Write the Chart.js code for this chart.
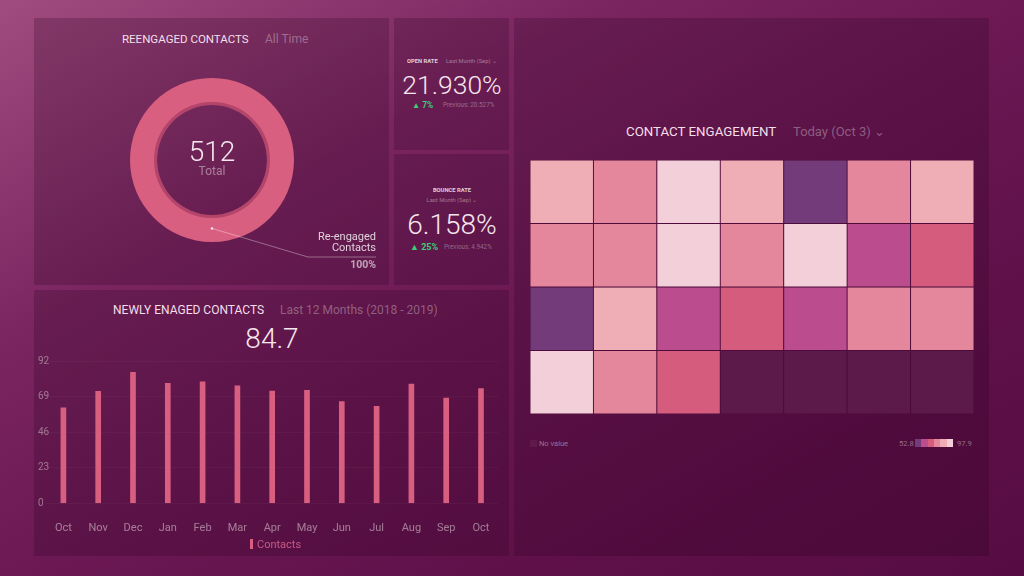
<!DOCTYPE html>
<html>
<head>
<meta charset="utf-8">
<script src="https://cdn.jsdelivr.net/npm/chart.js@4.4.1/dist/chart.umd.min.js"></script>
<style>
  html,body{margin:0;padding:0;}
  body{width:1024px;height:576px;overflow:hidden;position:relative;font-family:Roboto,"Noto Sans",sans-serif;
    background:linear-gradient(to bottom right,#a04c80 0%,#7a2560 30%,#6c1954 50%,#5f1049 75%,#560c42 100%);}
  .panel{position:absolute;background:rgba(35,0,28,0.22);}
  .t{position:absolute;white-space:nowrap;line-height:1;}
  canvas{position:absolute;}
</style>
</head>
<body>
<div class="panel" style="left:34px;top:18px;width:355px;height:267px;"></div>
<div class="panel" style="left:394px;top:18px;width:115px;height:132px;"></div>
<div class="panel" style="left:394px;top:154px;width:115px;height:131px;"></div>
<div class="panel" style="left:34px;top:290px;width:475px;height:266px;"></div>
<div class="panel" style="left:514px;top:18px;width:475px;height:538px;"></div>

<!-- Reengaged contacts -->
<div class="t" style="left:122px;top:33.5px;font-size:11.5px;color:#f4dfea;">REENGAGED CONTACTS</div>
<div class="t" style="left:265px;top:33px;font-size:12px;color:rgba(255,255,255,0.33);">All Time</div>
<canvas id="donut" width="355" height="267" style="left:34px;top:18px;"></canvas>
<div class="t" style="left:162px;width:100px;text-align:center;top:138px;font-size:28px;font-weight:300;color:#f6e6ee;">512</div>
<div class="t" style="left:162px;width:100px;text-align:center;top:165px;font-size:12px;color:rgba(255,255,255,0.42);">Total</div>

<!-- Open rate -->
<div class="t" style="left:407px;top:59px;font-size:5.8px;font-weight:700;color:rgba(255,255,255,0.8);">OPEN RATE</div>
<div class="t" style="left:446px;top:59px;font-size:5.8px;color:rgba(255,255,255,0.4);">Last Month (Sep) ⌄</div>
<div class="t" style="left:394px;width:116px;text-align:center;top:72px;font-size:26.5px;font-weight:300;color:#f6e6ee;">21.930%</div>
<div class="t" style="left:412px;top:101px;font-size:8.3px;font-weight:700;color:#3ccf78;">▲ 7%</div>
<div class="t" style="left:443px;top:102px;font-size:6.3px;color:rgba(255,255,255,0.35);">Previous: 20.527%</div>

<!-- Bounce rate -->
<div class="t" style="left:394px;width:116px;text-align:center;top:188px;font-size:5.8px;font-weight:700;color:rgba(255,255,255,0.8);">BOUNCE RATE</div>
<div class="t" style="left:394px;width:116px;text-align:center;top:198px;font-size:5.8px;color:rgba(255,255,255,0.4);">Last Month (Sep) ⌄</div>
<div class="t" style="left:394px;width:116px;text-align:center;top:211px;font-size:28px;font-weight:300;color:#f6e6ee;">6.158%</div>
<div class="t" style="left:410px;top:243px;font-size:9px;font-weight:700;color:#3ccf78;">▲ 25%</div>
<div class="t" style="left:444px;top:244px;font-size:6.3px;color:rgba(255,255,255,0.35);">Previous: 4.942%</div>

<!-- Newly engaged contacts -->
<div class="t" style="left:113px;top:304px;font-size:12px;color:#f4dfea;">NEWLY ENAGED CONTACTS</div>
<div class="t" style="left:280px;top:304px;font-size:12px;color:rgba(255,255,255,0.33);">Last 12 Months (2018 - 2019)</div>
<div class="t" style="left:222px;width:100px;text-align:center;top:325px;font-size:28px;font-weight:300;color:#f6e6ee;">84.7</div>
<canvas id="bars" width="476" height="190" style="left:34px;top:350px;"></canvas>
<div style="position:absolute;left:250px;top:539px;width:3px;height:10px;background:#d95f80;"></div>
<div class="t" style="left:257px;top:538.5px;font-size:11px;color:#c75a88;">Contacts</div>

<!-- Contact engagement -->
<div class="t" style="left:626px;top:124.5px;font-size:13.3px;color:#f4dfea;">CONTACT ENGAGEMENT</div>
<div class="t" style="left:793px;top:124.5px;font-size:13px;color:rgba(255,255,255,0.33);">Today (Oct 3) ⌄</div>
<canvas id="heat" width="444" height="254" style="left:530px;top:160px;"></canvas>
<div style="position:absolute;left:530px;top:440px;width:7px;height:7px;background:#5e1a4b;"></div>
<div class="t" style="left:539px;top:439.5px;font-size:7.5px;color:rgba(255,255,255,0.4);">No value</div>
<div class="t" style="left:899px;top:439.5px;font-size:7.5px;color:rgba(255,255,255,0.4);" id="minLbl"></div>
<div id="scaleBar" style="position:absolute;left:915px;top:439px;width:38px;height:8px;display:flex;"></div>
<div class="t" style="left:957px;top:439.5px;font-size:7.5px;color:rgba(255,255,255,0.4);" id="maxLbl"></div>

<script>
// ---------- data ----------
const donutLabels = ['Re-engaged Contacts'];
const donutValues = [512];

const months = ['Oct','Nov','Dec','Jan','Feb','Mar','Apr','May','Jun','Jul','Aug','Sep','Oct'];
const contacts = [61.8, 72.4, 84.7, 77.6, 78.6, 76.0, 72.6, 73.0, 65.7, 62.7, 77.1, 68.1, 74.1];
const yTicks = [0, 23, 46, 69, 92];

const heatCols = ['c1','c2','c3','c4','c5','c6','c7'];
const heatRow1 = [86.1, 79.4, 94.2, 88.5, 52.8, 78.3, 87.0];
const heatRow2 = [80.2, 77.9, 95.6, 78.8, 97.9, 63.4, 71.2];
const heatRow3 = [56.4, 85.7, 65.1, 70.3, 62.2, 79.9, 77.5];
const heatRow4 = [93.1, 78.5, 72.6, null, null, null, null];
const heatPalette = ['#733b7a','#bb4d8f','#d65c7e','#e5879c','#efadb5','#f2cfd9'];
const heatNullColor = '#5c1a4a';

// ---------- helpers ----------
const heatRows = [heatRow1, heatRow2, heatRow3, heatRow4];
const allHeat = heatRows.flat().filter(v => v !== null);
const hMin = Math.min(...allHeat), hMax = Math.max(...allHeat);
function heatColor(v){
  if (v === null || v === undefined) return heatNullColor;
  let i = Math.floor((v - hMin) / (hMax - hMin) * heatPalette.length);
  if (i >= heatPalette.length) i = heatPalette.length - 1;
  return heatPalette[i];
}
document.getElementById('minLbl').textContent = hMin.toFixed(1);
document.getElementById('maxLbl').textContent = hMax.toFixed(1);
const sb = document.getElementById('scaleBar');
heatPalette.forEach(c => { const d = document.createElement('div'); d.style.flex='1'; d.style.background=c; sb.appendChild(d); });

Chart.defaults.font.family = 'Roboto, "Noto Sans", sans-serif';
Chart.defaults.animation = false;

// ---------- donut ----------
const calloutPlugin = {
  id: 'callout',
  afterDatasetsDraw(chart){
    const arc = chart.getDatasetMeta(0).data[0];
    if (!arc) return;
    const {x, y, innerRadius, outerRadius, startAngle, endAngle} = arc.getProps(['x','y','innerRadius','outerRadius','startAngle','endAngle'], true);
    const ctx = chart.ctx;
    ctx.save();
    ctx.beginPath();
    ctx.arc(x, y, innerRadius + 1.5, 0, Math.PI * 2);
    ctx.strokeStyle = 'rgba(110,20,65,0.35)';
    ctx.lineWidth = 3;
    ctx.stroke();
    const a = (startAngle + endAngle) / 2;
    const r = (innerRadius + outerRadius) / 2;
    const px = x + Math.cos(a) * r, py = y + Math.sin(a) * r;
    const ex = x + 96, ey = y + 97, fx = x + 164;
    ctx.beginPath();
    ctx.moveTo(px, py); ctx.lineTo(ex, ey); ctx.lineTo(fx, ey);
    ctx.strokeStyle = 'rgba(255,255,255,0.45)';
    ctx.lineWidth = 0.8;
    ctx.stroke();
    ctx.beginPath(); ctx.arc(px, py, 1.3, 0, Math.PI*2); ctx.fillStyle = 'rgba(255,255,255,0.8)'; ctx.fill();
    const words = chart.data.labels[0].split(' ');
    ctx.textAlign = 'right'; ctx.textBaseline = 'middle';
    ctx.fillStyle = 'rgba(255,255,255,0.8)';
    ctx.font = '11px Roboto';
    ctx.fillText(words[0], fx, y + 77);
    ctx.fillText(words.slice(1).join(' '), fx, y + 88);
    const total = chart.data.datasets[0].data.reduce((s, v) => s + v, 0);
    ctx.font = 'bold 10.5px Roboto';
    ctx.fillStyle = 'rgba(255,255,255,0.6)';
    ctx.fillText(Math.round(chart.data.datasets[0].data[0] / total * 100) + '%', fx, y + 105);
    ctx.restore();
  }
};
new Chart(document.getElementById('donut'), {
  type: 'doughnut',
  data: { labels: donutLabels, datasets: [{ data: donutValues, backgroundColor: '#d95f80', borderWidth: 0 }] },
  options: {
    responsive: false, cutout: '67%',
    layout: { padding: { left: 96, right: 95, top: 60, bottom: 43 } },
    plugins: { legend: { display: false }, tooltip: { enabled: false } }
  },
  plugins: [calloutPlugin]
});

// ---------- bars ----------
new Chart(document.getElementById('bars'), {
  type: 'bar',
  data: { labels: months, datasets: [{ label: 'Contacts', data: contacts, backgroundColor: '#d95f80', barThickness: 5 }] },
  options: {
    responsive: false,
    layout: { padding: { left: 4, right: 11.6, top: 11, bottom: 0 } },
    plugins: { legend: { display: false }, tooltip: { enabled: false } },
    scales: {
      x: {
        grid: { display: false }, border: { display: false },
        ticks: { color: 'rgba(255,255,255,0.45)', font: { size: 11 }, padding: 10, maxRotation: 0, autoSkip: false },
        afterFit(s){ s.height = 36.7; }
      },
      y: {
        min: 0, max: 92,
        afterBuildTicks(s){ s.ticks = yTicks.map(v => ({ value: v })); },
        grid: { color: 'rgba(255,255,255,0.03)', drawTicks: false }, border: { display: false },
        ticks: { color: 'rgba(255,255,255,0.4)', font: { size: 10 }, crossAlign: 'far', padding: 0 },
        afterFit(s){ s.width = 8; s._computeLabelArea = () => undefined; }
      }
    }
  }
});

// ---------- heatmap ----------
new Chart(document.getElementById('heat'), {
  type: 'bar',
  data: {
    labels: heatCols,
    datasets: heatRows.map((row, ri) => ({
      label: 'row' + (ri + 1),
      data: row.map(() => 1),
      backgroundColor: ctx => heatColor(heatRows[ctx.datasetIndex][ctx.dataIndex]),
      borderColor: '#4d0b39',
      borderWidth: 0.8,
      borderSkipped: false,
      barPercentage: 1, categoryPercentage: 1
    }))
  },
  options: {
    responsive: false,
    layout: { padding: 0 },
    plugins: { legend: { display: false }, tooltip: { enabled: false } },
    scales: {
      x: { display: false, stacked: true },
      y: { display: false, stacked: true, reverse: true, min: 0, max: 4 }
    }
  }
});
</script>
</body>
</html>
